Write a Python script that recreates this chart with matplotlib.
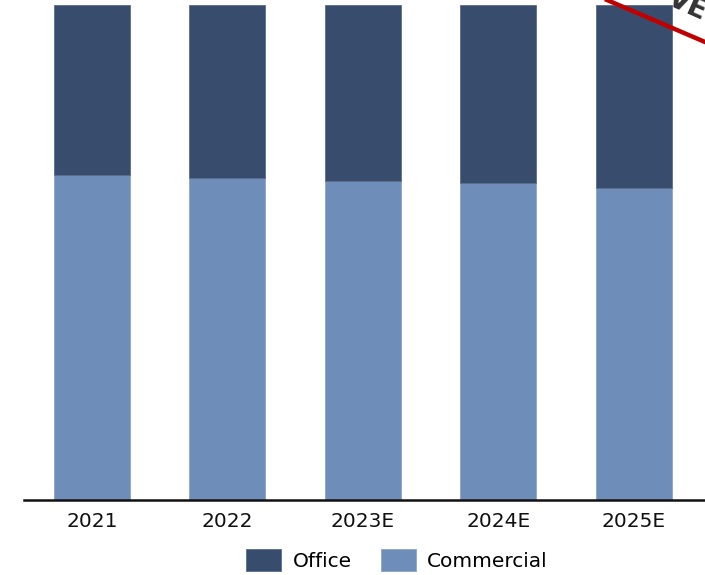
import matplotlib
matplotlib.use("Agg")
import matplotlib.pyplot as plt
from matplotlib.lines import Line2D

# Share of space by segment (%), stacked to 100
years = ["2021", "2022", "2023E", "2024E", "2025E"]
commercial = [65.7, 65.0, 64.4, 64.0, 63.0]
office = [34.3, 35.0, 35.6, 36.0, 37.0]

office_color = "#384D6E"
commercial_color = "#6E8DB8"

W, H = 705, 575
fig = plt.figure(figsize=(W / 100, H / 100), dpi=100)
ax = fig.add_axes([24 / W, (H - 499.5) / H, 1 - 24 / W, (499.5 - 5.3) / H])

x = range(len(years))
ax.bar(x, commercial, width=0.56, color=commercial_color, label="Commercial",
       edgecolor="#8CA4C8", linewidth=0.6)
ax.bar(x, office, width=0.56, bottom=commercial, color=office_color, label="Office",
       edgecolor="#5A6C88", linewidth=0.6)

ax.set_xlim(-0.5, 4.524)
ax.set_ylim(0, 100)
ax.set_xticks(list(x))
ax.set_xticklabels(years, fontsize=14.5, family="DejaVu Sans", color="#111111")
ax.tick_params(axis="x", length=0, pad=9)
ax.set_yticks([])
for side in ("left", "right", "top"):
    ax.spines[side].set_visible(False)
ax.spines["bottom"].set_linewidth(1.8)
ax.spines["bottom"].set_color("#111111")

handles, labels = ax.get_legend_handles_labels()
order = [1, 0]
fig.legend([handles[i] for i in order], [labels[i] for i in order],
           loc="center", bbox_to_anchor=(397 / W, 1 - 560 / H), ncol=2,
           frameon=False, fontsize=14.5, handlelength=1.75, handleheight=1.3,
           handletextpad=0.55, columnspacing=1.45, borderaxespad=0, borderpad=0)

# Corner stamp
fig.add_artist(Line2D([607 / W, 1.0], [1.0, 1 - 42 / H], color="#C00000",
                      linewidth=3.2, transform=fig.transFigure))
fig.text(666 / W, 1 - 4 / H, "VE", fontsize=20, fontweight="bold", color="#333333",
         rotation=-24, rotation_mode="anchor", ha="left", va="baseline",
         transform=fig.transFigure)

fig.savefig("out.png", dpi=100)
